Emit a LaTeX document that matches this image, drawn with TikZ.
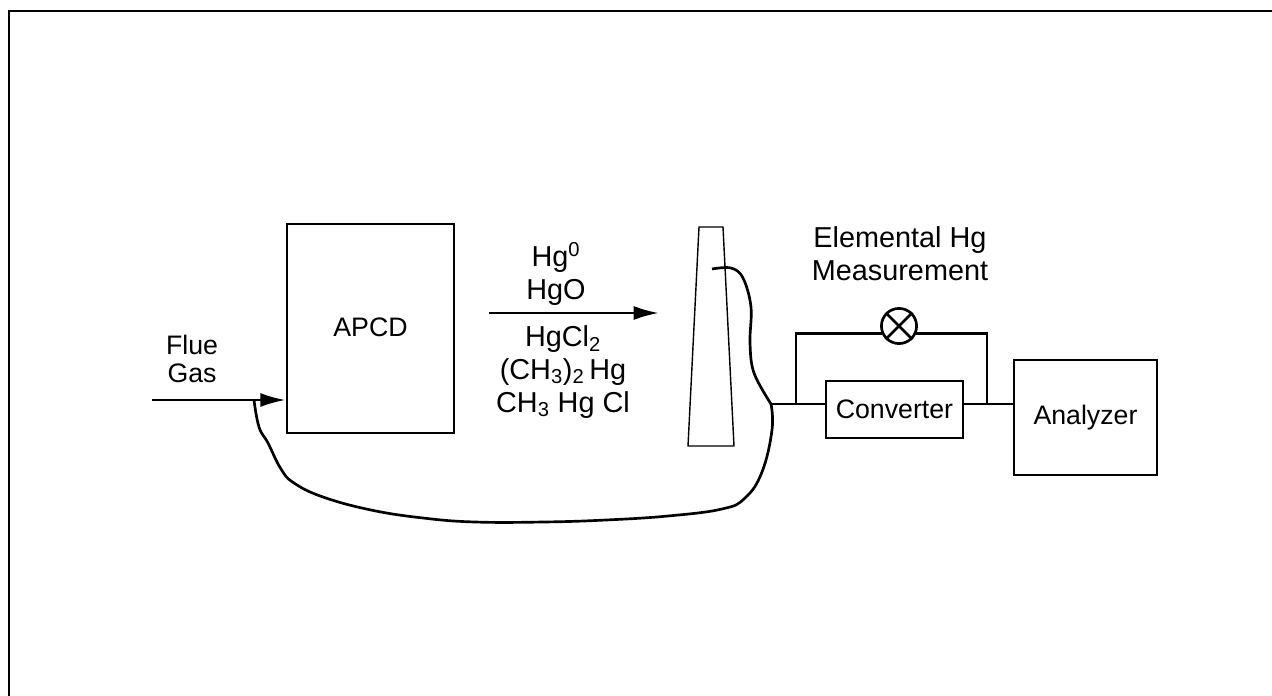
\documentclass[tikz,border=0pt]{standalone}
\usepackage{fontspec}
\setmainfont{Liberation Sans}
\usetikzlibrary{arrows.meta}

\newcommand*{\xmax}{1272}
\newcommand*{\ymax}{696}

\begin{document}
\begin{tikzpicture}
[
	x=0.025cm,y=-0.025cm,
	line width=1.9pt,
	blockbox/.style={draw,inner sep=0pt,font=\fontsize{19}{21}\selectfont},
	smalltxt/.style={align=center,inner sep=0pt,font=\fontsize{19}{19.5}\selectfont},
	bigtxt/.style={align=center,inner sep=0pt,font=\fontsize{20.5}{23.3}\selectfont},
	flow/.style={-{Latex[length=18pt,width=10pt]}}
]

	\useasboundingbox (0,0) rectangle (\xmax,\ymax);

	% frame
	\draw[line width=2.1pt] (9,\ymax) -- (9,11) -- (\xmax,11);

	% blocks
	\node[blockbox,minimum width=118.8pt,minimum height=148.7pt] (apcd) at (370.5,328.5) {\raisebox{1.4pt}{APCD}};
	\node[blockbox,minimum width=97.4pt,minimum height=40.5pt] (conv) at (894.5,409.5) {Converter};
	\node[blockbox,minimum width=101.7pt,minimum height=81.8pt] (ana) at (1085.5,417.5) {Analyzer};

	% stack
	\draw[line width=1pt] (699,227) -- (723,227) -- (734,446) -- (688,446) -- cycle;

	% lamp
	\node[draw,circle,inner sep=0pt,minimum size=25pt] (lamp) at (899,326) {};
	\draw (lamp.north west) -- (lamp.south east) (lamp.north east) -- (lamp.south west);

	% labels
	\node[smalltxt] (flue) at (192,359) {Flue\\Gas};
	\node[bigtxt] (hgtop) at (556,274) {Hg$^{\mathrm{0}}$\\HgO};
	\node[bigtxt] (hgbottom) at (563,372) {HgCl$_{\mathrm{2}}$\\(CH$_{\mathrm{3}}$)$_{\mathrm{2}}$\,Hg\\CH$_{\mathrm{3}}$ Hg Cl};
	\node[bigtxt] (meas) at (900,254) {Elemental Hg\\Measurement};

	% lines
	\coordinate (joint) at (771,404);
	\coordinate (fluestart) at (152,400);
	\coordinate (stackin) at (712,269);
	\coordinate (loopleft) at (796,404);
	\coordinate (loopright) at (987,404);
	\coordinate (fluejoin) at (254,400);
	\coordinate (arrowstart) at (489,313);
	\coordinate (arrowend) at (659,313);

	\draw[flow] (fluestart) -- (apcd.west |- fluestart);
	\draw[flow] (arrowstart) -- (arrowend);
	\draw (joint) -- (conv.west |- joint) (conv.east |- loopright) -- (ana.west |- loopright);
	\draw (loopleft) |- (lamp.204) (lamp.336) -| (loopright);

	% hand drawn return lines
	\draw plot[smooth,tension=0.6] coordinates {(stackin) (731,268) (743,278) (751,307) (750,343) (754,373) (joint)};
	\draw plot[smooth,tension=0.7] coordinates {(joint) (772,430) (762,472) (745,498) (722,509) (668,516) (606,520) (544,522) (475,522) (423,518) (371,510) (323,497) (294,483) (281,469) (268,443) (259,427) (fluejoin)};

\end{tikzpicture}
\end{document}
